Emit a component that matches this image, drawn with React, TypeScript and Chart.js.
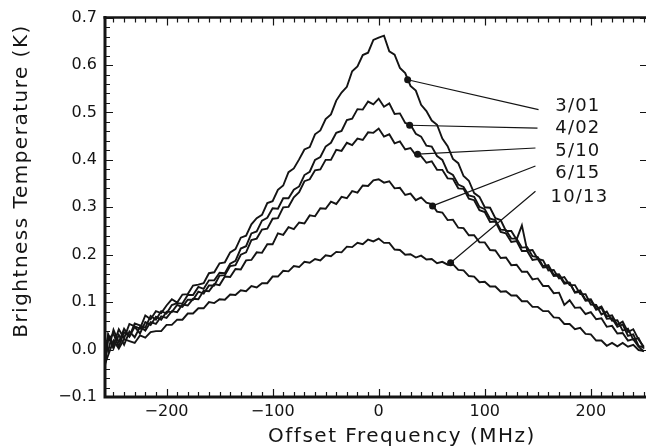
import React, { useEffect, useRef } from "react";
import { Chart, registerables } from "chart.js";

Chart.register(...registerables);

// Offset frequency (MHz)
const freqs = [
  -258, -255, -250, -245, -240, -235, -230, -225, -220, -215, -210, -205, -200, -195, -190, -185, -180, -175, -170, -165,
  -160, -155, -150, -145, -140, -135, -130, -125, -120, -115, -110, -105, -100, -95, -90, -85, -80, -75, -70, -65,
  -60, -55, -50, -45, -40, -35, -30, -25, -20, -15, -10, -5, 0, 5, 10, 15, 20, 25, 30, 35,
  40, 45, 50, 55, 60, 65, 70, 75, 80, 85, 90, 95, 100, 105, 110, 115, 120, 125, 130, 135,
  140, 145, 150, 155, 160, 165, 170, 175, 180, 185, 190, 195, 200, 205, 210, 215, 220, 225, 230, 235,
  240, 245, 250,
];

// Brightness temperature (K)
const s0301 = [
  -0.012, 0.032, 0.010, 0.043, 0.024, 0.054, 0.049, 0.044, 0.072, 0.064, 0.081, 0.077, 0.093, 0.106, 0.099, 0.116, 0.117, 0.135, 0.137, 0.140,
  0.161, 0.163, 0.182, 0.184, 0.205, 0.212, 0.236, 0.240, 0.264, 0.277, 0.284, 0.309, 0.313, 0.337, 0.346, 0.374, 0.382, 0.401, 0.422, 0.427,
  0.454, 0.462, 0.486, 0.496, 0.525, 0.542, 0.554, 0.587, 0.597, 0.621, 0.626, 0.653, 0.658, 0.662, 0.629, 0.622, 0.594, 0.583, 0.556, 0.546,
  0.516, 0.503, 0.483, 0.474, 0.445, 0.429, 0.402, 0.393, 0.366, 0.356, 0.330, 0.322, 0.300, 0.299, 0.277, 0.273, 0.250, 0.250, 0.232, 0.262,
  0.209, 0.210, 0.191, 0.188, 0.167, 0.168, 0.150, 0.153, 0.136, 0.136, 0.117, 0.117, 0.095, 0.094, 0.074, 0.080, 0.061, 0.062, 0.040, 0.044,
  0.021, 0.024, 0.002,
];
const s0402 = [
  0.020, -0.003, 0.042, 0.015, 0.044, 0.028, 0.055, 0.051, 0.046, 0.071, 0.063, 0.081, 0.076, 0.094, 0.098, 0.097, 0.115, 0.115, 0.132, 0.128,
  0.146, 0.146, 0.162, 0.161, 0.181, 0.187, 0.213, 0.218, 0.245, 0.249, 0.272, 0.278, 0.298, 0.297, 0.319, 0.319, 0.337, 0.344, 0.368, 0.375,
  0.400, 0.406, 0.428, 0.436, 0.457, 0.461, 0.484, 0.487, 0.507, 0.506, 0.523, 0.517, 0.529, 0.512, 0.519, 0.497, 0.498, 0.478, 0.474, 0.455,
  0.449, 0.430, 0.428, 0.408, 0.400, 0.375, 0.368, 0.348, 0.343, 0.325, 0.322, 0.301, 0.296, 0.276, 0.273, 0.253, 0.252, 0.234, 0.234, 0.215,
  0.216, 0.197, 0.195, 0.176, 0.178, 0.158, 0.159, 0.142, 0.141, 0.120, 0.122, 0.103, 0.104, 0.084, 0.088, 0.065, 0.066, 0.048, 0.053, 0.029,
  0.032, 0.008, 0.004,
];
const s0510 = [
  -0.035, 0.022, 0.033, 0.006, 0.037, 0.027, 0.048, 0.034, 0.058, 0.052, 0.069, 0.063, 0.080, 0.079, 0.094, 0.090, 0.105, 0.105, 0.122, 0.118,
  0.135, 0.135, 0.156, 0.157, 0.176, 0.178, 0.200, 0.205, 0.231, 0.234, 0.253, 0.255, 0.276, 0.277, 0.300, 0.301, 0.321, 0.332, 0.355, 0.359,
  0.378, 0.380, 0.400, 0.400, 0.421, 0.419, 0.436, 0.431, 0.445, 0.442, 0.458, 0.457, 0.466, 0.449, 0.454, 0.435, 0.439, 0.422, 0.425, 0.410,
  0.408, 0.394, 0.397, 0.379, 0.379, 0.361, 0.360, 0.340, 0.339, 0.318, 0.315, 0.294, 0.290, 0.269, 0.270, 0.248, 0.245, 0.227, 0.229, 0.208,
  0.208, 0.189, 0.191, 0.173, 0.174, 0.155, 0.156, 0.139, 0.141, 0.121, 0.125, 0.105, 0.106, 0.086, 0.091, 0.070, 0.072, 0.052, 0.059, 0.037,
  0.043, 0.021, 0.006,
];
const s0615 = [
  -0.025, 0.030, 0.002, 0.031, 0.010, 0.038, 0.026, 0.048, 0.040, 0.058, 0.054, 0.070, 0.067, 0.081, 0.079, 0.095, 0.093, 0.107, 0.106, 0.124,
  0.123, 0.138, 0.136, 0.154, 0.153, 0.170, 0.169, 0.188, 0.189, 0.205, 0.204, 0.222, 0.222, 0.245, 0.242, 0.258, 0.254, 0.268, 0.266, 0.283,
  0.281, 0.298, 0.297, 0.312, 0.307, 0.322, 0.319, 0.334, 0.331, 0.346, 0.345, 0.357, 0.359, 0.352, 0.355, 0.340, 0.341, 0.326, 0.329, 0.315,
  0.321, 0.310, 0.307, 0.291, 0.289, 0.273, 0.274, 0.257, 0.256, 0.241, 0.241, 0.226, 0.226, 0.210, 0.209, 0.193, 0.194, 0.178, 0.179, 0.164,
  0.164, 0.148, 0.150, 0.134, 0.134, 0.119, 0.120, 0.094, 0.104, 0.088, 0.089, 0.075, 0.079, 0.064, 0.066, 0.048, 0.050, 0.034, 0.035, 0.019,
  0.022, 0.006, -0.004,
];
const s1013 = [
  -0.030, -0.012, 0.019, 0.002, 0.022, 0.018, 0.014, 0.030, 0.025, 0.037, 0.039, 0.039, 0.052, 0.052, 0.063, 0.063, 0.076, 0.076, 0.087, 0.087,
  0.100, 0.098, 0.106, 0.105, 0.116, 0.115, 0.125, 0.123, 0.134, 0.131, 0.140, 0.140, 0.154, 0.154, 0.166, 0.165, 0.176, 0.174, 0.185, 0.183,
  0.191, 0.188, 0.199, 0.197, 0.206, 0.205, 0.217, 0.216, 0.225, 0.222, 0.232, 0.228, 0.234, 0.225, 0.225, 0.211, 0.210, 0.200, 0.201, 0.194,
  0.198, 0.190, 0.191, 0.182, 0.185, 0.179, 0.180, 0.168, 0.167, 0.155, 0.154, 0.142, 0.143, 0.133, 0.133, 0.122, 0.123, 0.114, 0.114, 0.102,
  0.102, 0.090, 0.090, 0.081, 0.081, 0.068, 0.067, 0.054, 0.054, 0.043, 0.046, 0.033, 0.032, 0.019, 0.019, 0.008, 0.014, 0.007, 0.014, 0.006,
  0.010, -0.001, -0.003,
];

const seriesList = [s0301, s0402, s0510, s0615, s1013];

// Annotation (label, marked point on curve, leader end, label anchor) in data units
const annotLabels = ["3/01", "4/02", "5/10", "6/15", "10/13"];
const annotPointX = [27.3, 29.2, 36.7, 50.8, 67.8];
const annotPointY = [0.569, 0.473, 0.412, 0.303, 0.183];
const annotEndX = [150.7, 149.7, 147.8, 147.8, 147.8];
const annotEndY = [0.506, 0.467, 0.425, 0.387, 0.334];
const annotTextX = [166.5, 166.5, 166.5, 166.5, 162];
const annotTextY = [0.513, 0.466, 0.418, 0.372, 0.321];

const xTickValues = [-200, -100, 0, 100, 200];
const yTickValues = [-0.1, 0.0, 0.1, 0.2, 0.3, 0.4, 0.5, 0.6, 0.7];

const xTitle = "Offset Frequency (MHz)";
const yTitle = "Brightness Temperature (K)";

const INK = "#141414";
const FONT = "'DejaVu Sans', 'Liberation Sans', sans-serif";

const fmtMinus = (s: string) => s.replace("-", "\u2212");

const framePlugin = {
  id: "framePlugin",
  afterDraw(chart: any) {
    const { ctx, chartArea, scales } = chart;
    const xs = scales.x;
    const ys = scales.y;
    const L = chartArea.left;
    const R = chartArea.right;
    const T = chartArea.top;
    const B = chartArea.bottom;
    ctx.save();
    ctx.strokeStyle = INK;
    ctx.fillStyle = INK;
    ctx.lineCap = "butt";

    // axis lines
    ctx.lineWidth = 3;
    ctx.beginPath();
    ctx.moveTo(L, T - 1.5);
    ctx.lineTo(L, B + 1.5);
    ctx.moveTo(L - 1.5, B);
    ctx.lineTo(R, B);
    ctx.stroke();
    ctx.lineWidth = 2.5;
    ctx.beginPath();
    ctx.moveTo(L - 1.5, T);
    ctx.lineTo(R, T);
    ctx.stroke();

    // ticks
    ctx.lineWidth = 1.2;
    ctx.beginPath();
    for (let v = -250; v <= 250; v += 10) {
      const px = Math.round(xs.getPixelForValue(v)) + 0.5;
      const major = v % 100 === 0;
      const len = major ? 8 : 5;
      ctx.moveTo(px, B);
      ctx.lineTo(px, B - len);
      ctx.moveTo(px, T);
      ctx.lineTo(px, T + len);
    }
    for (let i = -5; i <= 35; i++) {
      const v = i * 0.02;
      const py = Math.round(ys.getPixelForValue(v)) + 0.5;
      const major = i % 5 === 0;
      const len = major ? 8 : 5;
      ctx.moveTo(L, py);
      ctx.lineTo(L + len, py);
      if (major) {
        ctx.moveTo(R, py);
        ctx.lineTo(R - 6, py);
      }
    }
    ctx.stroke();

    // annotations
    ctx.lineWidth = 1.2;
    for (let i = 0; i < annotLabels.length; i++) {
      const x0 = xs.getPixelForValue(annotPointX[i]);
      const y0 = ys.getPixelForValue(annotPointY[i]);
      const x1 = xs.getPixelForValue(annotEndX[i]);
      const y1 = ys.getPixelForValue(annotEndY[i]);
      ctx.beginPath();
      ctx.moveTo(x0, y0);
      ctx.lineTo(x1, y1);
      ctx.stroke();
      ctx.beginPath();
      ctx.arc(x0, y0, 3.5, 0, Math.PI * 2);
      ctx.fill();
      ctx.font = `18px ${FONT}`;
      (ctx as any).letterSpacing = "1.2px";
      ctx.textAlign = "left";
      ctx.textBaseline = "middle";
      ctx.fillText(annotLabels[i], xs.getPixelForValue(annotTextX[i]), ys.getPixelForValue(annotTextY[i]));
    }

    // axis titles
    ctx.font = `20px ${FONT}`;
    (ctx as any).letterSpacing = "1.5px";
    ctx.textAlign = "center";
    ctx.textBaseline = "middle";
    ctx.fillText(xTitle, 402, 437);
    ctx.save();
    ctx.translate(22, 181);
    ctx.rotate(-Math.PI / 2);
    ctx.fillText(yTitle, 0, 0);
    ctx.restore();
    (ctx as any).letterSpacing = "0px";
    ctx.restore();
  },
};

export default function App() {
  const ref = useRef<HTMLCanvasElement | null>(null);
  useEffect(() => {
    const canvas = ref.current;
    if (!canvas) return;
    const chart = new Chart(canvas, {
      type: "line",
      data: {
        datasets: seriesList.map((s, k) => ({
          label: annotLabels[k],
          data: freqs.map((f, i) => ({ x: f, y: s[i] })),
          borderColor: INK,
          borderWidth: 1.9,
          pointRadius: 0,
          fill: false,
          tension: 0,
        })),
      },
      options: {
        animation: false,
        responsive: false,
        devicePixelRatio: 1,
        events: [],
        layout: { padding: { top: 17, left: 0, right: 0, bottom: 0 } },
        plugins: { legend: { display: false }, tooltip: { enabled: false } },
        scales: {
          x: {
            type: "linear",
            min: -258,
            max: 252,
            grid: { display: false, drawTicks: false },
            border: { display: false },
            afterFit: (s: any) => {
              s.height = 51;
            },
            afterBuildTicks: (s: any) => {
              s.ticks = xTickValues.map((v) => ({ value: v }));
            },
            ticks: {
              autoSkip: false,
              maxRotation: 0,
              padding: 5,
              color: INK,
              font: { family: FONT, size: 16 },
              callback: (v: any) => fmtMinus(String(v)),
            },
          },
          y: {
            type: "linear",
            min: -0.1,
            max: 0.7,
            grid: { display: false, drawTicks: false },
            border: { display: false },
            afterFit: (s: any) => {
              s.width = 105;
            },
            afterBuildTicks: (s: any) => {
              s.ticks = yTickValues.map((v) => ({ value: v }));
            },
            ticks: {
              autoSkip: false,
              padding: 8,
              color: INK,
              font: { family: FONT, size: 16 },
              callback: (v: any) => fmtMinus(Number(v).toFixed(1)),
            },
          },
        },
      },
      plugins: [framePlugin],
    });
    return () => chart.destroy();
  }, []);
  return (
    <div style={{ position: "fixed", left: 0, top: 0, width: 646, height: 448, background: "#fff" }}>
      <canvas ref={ref} width={646} height={448} style={{ display: "block", width: 646, height: 448 }} />
    </div>
  );
}
